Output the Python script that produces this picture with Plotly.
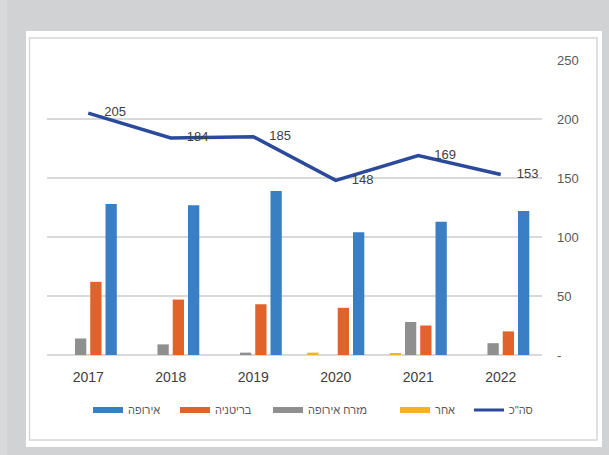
import plotly.graph_objects as go

# ---- data ----
years = ["2017", "2018", "2019", "2020", "2021", "2022"]
europe = [128, 127, 139, 104, 113, 122]        # אירופה
britain = [62, 47, 43, 40, 25, 20]             # בריטניה
east_europe = [14, 9, 2, 0, 28, 10]            # מזרח אירופה
other = [0, 0, 0, 2, 1, 0]                     # אחר
total = [205, 184, 185, 148, 169, 153]         # סה"כ
y_ticks = [0, 50, 100, 150, 200, 250]
y_tick_labels = ["-", "50", "100", "150", "200", "250"]

name_europe = "אירופה"
name_britain = "בריטניה"
name_east = "מזרח אירופה"
name_other = "אחר"
name_total = 'סה"כ'

c_europe = "#3a7ec4"
c_britain = "#e2622b"
c_east = "#8f8f8f"
c_other = "#f4b223"
c_total = "#2b4a9b"

FONT = "Liberation Sans, Arial, sans-serif"
W, H = 609, 455
ML, MR, MT, MB = 47, 67, 60, 100
PW, PH = W - ML - MR, H - MT - MB


def xp(px):
    return (px - ML) / PW


def yp(py):
    return (H - MB - py) / PH


fig = go.Figure()

# bars (left-to-right order inside each group: other, east, britain, europe)
for name, vals, col in [(name_other, other, c_other),
                        (name_east, east_europe, c_east),
                        (name_britain, britain, c_britain),
                        (name_europe, europe, c_europe)]:
    fig.add_trace(go.Bar(x=years, y=vals, name=name, marker_color=col,
                         marker_line_width=0, showlegend=False))

# total line with labels
fig.add_trace(go.Scatter(x=years, y=total, name=name_total,
                         mode="lines+markers+text",
                         line=dict(color=c_total, width=3.5),
                         marker=dict(size=24, color="rgba(0,0,0,0)"),
                         text=[str(v) for v in total],
                         textposition="middle right",
                         textfont=dict(family=FONT, size=13, color="#404040"),
                         showlegend=False, cliponaxis=False))

# legend entries, each in its own legend box so spacing matches the original
legend_items = [(name_europe, c_europe, 6, 93),
                (name_britain, c_britain, 6, 180),
                (name_east, c_east, 6, 273),
                (name_other, c_other, 6, 400),
                (name_total, c_total, 3, 474)]
legend_layouts = {}
for i, (name, col, w, sx) in enumerate(legend_items):
    lid = "legend" if i == 0 else "legend%d" % (i + 1)
    fig.add_trace(go.Scatter(x=[None], y=[None], mode="lines", name=name,
                             line=dict(color=col, width=w), showlegend=True,
                             legend=lid))
    legend_layouts[lid] = dict(orientation="h", x=xp(sx - 5), xanchor="left",
                               y=yp(410), yanchor="middle",
                               font=dict(family=FONT, size=11, color="#595959"),
                               bgcolor="rgba(0,0,0,0)", itemwidth=30)

shapes = [
    # lighter strip on far left
    dict(type="rect", xref="paper", yref="paper", layer="below",
         x0=xp(0), x1=xp(7), y0=yp(0), y1=yp(H), fillcolor="#d8d9db",
         line_width=0),
    # white panel
    dict(type="rect", xref="paper", yref="paper", layer="below",
         x0=xp(26), x1=xp(602), y0=yp(31), y1=yp(447), fillcolor="white",
         line_width=0),
    # inner border
    dict(type="rect", xref="paper", yref="paper", layer="below",
         x0=xp(29.5), x1=xp(597), y0=yp(38), y1=yp(440),
         fillcolor="rgba(0,0,0,0)", line=dict(color="#d6d6d6", width=1.5)),
]

fig.update_layout(
    width=W, height=H,
    margin=dict(l=ML, r=MR, t=MT, b=MB, pad=0),
    paper_bgcolor="#d1d2d4",
    plot_bgcolor="rgba(0,0,0,0)",
    barmode="group", bargap=0.26, bargroupgap=0.26,
    font=dict(family=FONT, color="#595959"),
    shapes=shapes,
    showlegend=True,
    xaxis=dict(type="category", showgrid=False, showline=False,
               zeroline=False, ticks="",
               tickfont=dict(family=FONT, size=14, color="#404040"),
               ticklabelstandoff=12),
    yaxis=dict(side="right", range=[0, 250], tickvals=y_ticks,
               ticktext=y_tick_labels,
               showgrid=True, gridcolor="#d9d9d9", gridwidth=1.5,
               zeroline=True, zerolinecolor="#d9d9d9", zerolinewidth=1.5,
               showline=False, ticks="",
               tickfont=dict(family=FONT, size=13, color="#595959"),
               ticklabelstandoff=14),
    **legend_layouts,
)

fig.write_html("out.html",
               config={"displayModeBar": False},
               post_script="document.body.style.margin='0';"
                           "document.body.style.overflow='hidden';")
